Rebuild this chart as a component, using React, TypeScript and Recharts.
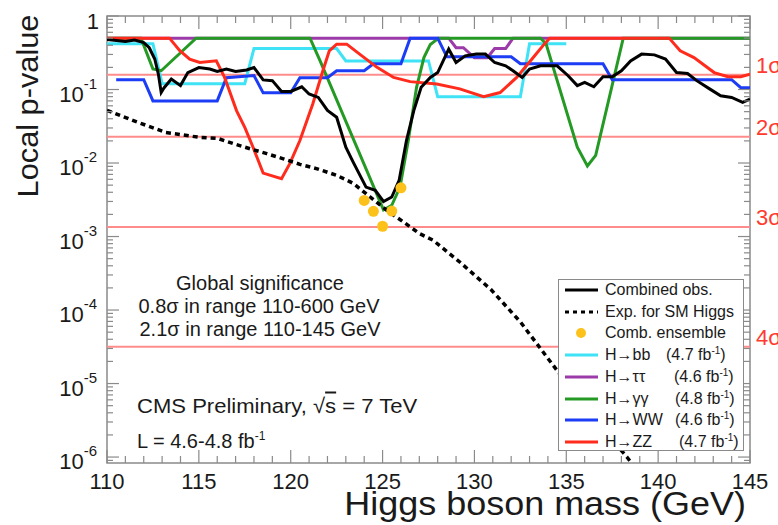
import React from 'react';
import { ComposedChart, Line, XAxis, YAxis, ReferenceLine, ReferenceArea, Legend } from 'recharts';

type Pt = { m: number; p: number };
const pts = (rows: number[][]): Pt[] => rows.map(([m, p]) => ({ m, p }));

// ---------------- data (mass in GeV, local p-value) ----------------
const combinedObs = pts([
  [110, 0.48], [111, 0.45], [111.5, 0.47], [112, 0.435], [112.3, 0.37], [112.6, 0.26], [112.8, 0.16],
  [112.95, 0.091], [113.1, 0.105], [113.5, 0.139], [114, 0.113], [114.4, 0.17], [115, 0.199], [115.6, 0.19],
  [116, 0.176], [116.5, 0.19], [117, 0.176], [117.6, 0.184], [118, 0.199], [118.5, 0.135], [119, 0.132],
  [119.5, 0.094], [120, 0.094], [120.6, 0.109], [121, 0.087], [121.5, 0.078], [122, 0.052], [122.5, 0.042],
  [123, 0.0164], [123.4, 0.0103], [124.1, 0.0047], [124.6, 0.00425], [125.05, 0.003], [125.5, 0.00345],
  [125.9, 0.0058], [126.3, 0.0202], [126.7, 0.0516], [127.1, 0.107], [127.6, 0.146], [128, 0.17],
  [128.6, 0.354], [129, 0.233], [129.5, 0.287], [130.1, 0.303], [130.6, 0.303], [131.1, 0.233], [131.7, 0.21],
  [132.1, 0.18], [132.6, 0.146], [133, 0.19], [133.6, 0.21], [134.5, 0.21], [135.1, 0.154], [135.6, 0.113],
  [136, 0.125], [136.5, 0.109], [137, 0.149], [137.5, 0.149], [138, 0.18], [138.5, 0.245], [139.1, 0.303],
  [139.8, 0.296], [140.4, 0.259], [141, 0.17], [141.6, 0.165], [142.1, 0.132], [142.8, 0.102], [143.4, 0.082],
  [144, 0.078], [144.6, 0.067], [145, 0.074],
]);

const expectedSM = pts([
  [110, 0.052], [111.4, 0.038], [113.2, 0.026], [115, 0.0224], [116, 0.0217], [116.9, 0.0183], [117.8, 0.0156],
  [118.7, 0.0134], [119.6, 0.0114], [120.5, 0.0096], [121.4, 0.0084], [122.5, 0.0068], [123.4, 0.0053],
  [124.3, 0.0035], [125.2, 0.0023], [126.1, 0.0016], [127, 0.0011], [127.75, 0.00089], [129.2, 0.00045],
  [130.9, 0.00019], [132.5, 0.000069], [134.3, 0.0000175], [136.3, 0.0000038], [138.3, 0.000001],
  [138.6, 0.0000008],
]);

const combEnsemble = pts([
  [124, 0.0031], [124.5, 0.0022], [125, 0.00138], [125.5, 0.00222], [126, 0.0046],
]);

const hbb = pts([
  [110, 0.42], [112.5, 0.42], [113, 0.12], [117.5, 0.12], [118, 0.36], [122.5, 0.36], [123, 0.245],
  [127.5, 0.245], [128, 0.08], [132.5, 0.08], [133, 0.42], [135, 0.42],
]);

const htautau = pts([
  [110, 0.5], [128.6, 0.5], [129, 0.37], [129.4, 0.37], [130, 0.27], [130.7, 0.27], [131.1, 0.36],
  [131.7, 0.36], [132.1, 0.5], [145, 0.5],
]);

const hgg = pts([
  [110, 0.5], [111.85, 0.5], [112.5, 0.19], [112.95, 0.18], [114.85, 0.5], [121.05, 0.5], [121.6, 0.245],
  [125.05, 0.0023], [125.5, 0.00266], [125.95, 0.0047], [126.4, 0.0202], [126.85, 0.107], [127.25, 0.272],
  [127.6, 0.41], [128.05, 0.5], [133.6, 0.5], [133.9, 0.42], [135.6, 0.0164], [136.15, 0.0091],
  [136.6, 0.0127], [138.1, 0.5], [145, 0.5],
]);

const hww = pts([
  [110.5, 0.136], [112, 0.136], [112.5, 0.07], [116, 0.07], [116.5, 0.145], [118, 0.155], [118.5, 0.09],
  [120, 0.09], [120.5, 0.145], [122, 0.145], [122.5, 0.18], [124, 0.18], [124.5, 0.224], [126, 0.224],
  [126.5, 0.5], [128, 0.5], [128.5, 0.278], [132, 0.278], [132.5, 0.224], [137, 0.224], [137.5, 0.136],
  [144, 0.136], [144.5, 0.106], [145, 0.106],
]);

const hzz = pts([
  [110, 0.5], [113.4, 0.5], [113.95, 0.34], [114.5, 0.259], [115.05, 0.233], [115.95, 0.246], [116.4, 0.146],
  [117.05, 0.0516], [117.5, 0.0306], [117.95, 0.0164], [118.5, 0.0073], [119.5, 0.0061], [119.95, 0.0098],
  [120.5, 0.0202], [121.2, 0.0636], [121.75, 0.18], [122.1, 0.336], [122.5, 0.414], [123.05, 0.414],
  [123.75, 0.303], [124.7, 0.2], [125.6, 0.146], [126.5, 0.128], [127.95, 0.119], [129.2, 0.102],
  [130.5, 0.08], [131.4, 0.091], [132.3, 0.146], [133.2, 0.272], [133.8, 0.414], [134.1, 0.5], [140.6, 0.5],
  [141.2, 0.336], [141.95, 0.272], [143.05, 0.17], [143.8, 0.149], [144.5, 0.149], [145, 0.162],
]);

const sigmaLevels = [0.158655, 0.02275, 0.0013499, 0.00003167];
const sigmaNames = ['1σ', '2σ', '3σ', '4σ'];

const massTicks = [
  110, 111, 112, 113, 114, 115, 116, 117, 118, 119, 120, 121, 122, 123, 124, 125, 126, 127,
  128, 129, 130, 131, 132, 133, 134, 135, 136, 137, 138, 139, 140, 141, 142, 143, 144, 145,
];
const decadeTicks = [1, 0.1, 0.01, 0.001, 0.0001, 0.00001, 0.000001];
const minorMultipliers = [2, 3, 4, 5, 6, 7, 8, 9];
const Y_DOMAIN: [number, number] = [8.3e-7, 1];

const legendNames = [
  'Combined obs.', 'Exp. for SM Higgs', 'Comb. ensemble',
  'H→bb', 'H→ττ', 'H→γγ', 'H→WW', 'H→ZZ',
];
const legendLumi = ['', '', '', '4.7', '4.6', '4.8', '4.6', '4.7'];

// ---------------- styles ----------------
const FONT = '"Liberation Sans", Arial, Helvetica, sans-serif';
const PLOT = { left: 107, right: 750, top: 16, bottom: 463 };
const FRAME = '#8a8a8a';
const TEXT = '#1a1a1a';
const COL = {
  obs: '#000000',
  exp: '#000000',
  ens: '#fcc21b',
  bb: '#3fe3f5',
  tt: '#9b3aa8',
  gg: '#249a24',
  ww: '#1c3cf5',
  zz: '#ff2b1c',
  sigmaLine: '#ff8c8c',
  sigmaText: '#ff3b30',
};
const legendKinds = ['line', 'dash', 'dot', 'line', 'line', 'line', 'line', 'line'];
const legendColors = [COL.obs, COL.exp, COL.ens, COL.bb, COL.tt, COL.gg, COL.ww, COL.zz];
const lumiLeft = [0, 0, 0, 107, 115, 116, 116, 120];

const yTicks: number[] = (() => {
  const out: number[] = [...decadeTicks];
  for (const d of [0.1, 0.01, 0.001, 0.0001, 0.00001, 0.000001, 0.0000001]) {
    for (const k of minorMultipliers) {
      const v = k * d;
      if (v >= Y_DOMAIN[0] && v <= Y_DOMAIN[1]) out.push(v);
    }
  }
  return out;
})();

const XTick = (props: any) => {
  const { x, payload } = props;
  const v = payload.value as number;
  const major = v % 5 === 0;
  const len = major ? 13 : 7;
  return (
    <g>
      <line x1={x} x2={x} y1={PLOT.bottom} y2={PLOT.bottom - len} stroke={FRAME} strokeWidth={1.2} />
      <line x1={x} x2={x} y1={PLOT.top} y2={PLOT.top + len} stroke={FRAME} strokeWidth={1.2} />
      {major ? (
        <text x={x} y={PLOT.bottom + 18} textAnchor="middle" dominantBaseline="central" fontSize={22} fontFamily={FONT} fill={TEXT}>
          {v}
        </text>
      ) : null}
    </g>
  );
};

const YTick = (props: any) => {
  const { y, payload } = props;
  const v = payload.value as number;
  const lg = Math.log10(v);
  const e = Math.round(lg);
  const major = Math.abs(lg - e) < 1e-6;
  const len = major ? 12 : 6;
  return (
    <g>
      <line x1={PLOT.left} x2={PLOT.left + len} y1={y} y2={y} stroke={FRAME} strokeWidth={1.2} />
      <line x1={PLOT.right - len} x2={PLOT.right} y1={y} y2={y} stroke={FRAME} strokeWidth={1.2} />
      {major ? (
        e === 0 ? (
          <text x={99} y={y + 5} textAnchor="end" dominantBaseline="central" fontSize={22} fontFamily={FONT} fill={TEXT}>1</text>
        ) : (
          <text x={97} y={y + 4} textAnchor="end" dominantBaseline="central" fontSize={22} fontFamily={FONT} fill={TEXT}>
            <tspan>10</tspan>
            <tspan fontSize={15} dy={-11}>{String(e)}</tspan>
          </text>
        )
      ) : null}
    </g>
  );
};

const SigmaLabel = (props: any) => {
  const vb = props.viewBox || {};
  return (
    <text x={(vb.x || 0) + (vb.width || 0) + 6} y={(vb.y || 0) - 9} dominantBaseline="central" fontSize={22} fontFamily={FONT} fill={COL.sigmaText}>
      {props.text}
    </text>
  );
};

const Sup = ({ children, size }: { children: React.ReactNode; size: number }) => (
  <span style={{ fontSize: size, verticalAlign: 'super', lineHeight: 0 }}>{children}</span>
);

const LegendBox = () => (
  <div
    style={{
      width: 186, height: 172, boxSizing: 'border-box', border: `1.5px solid ${FRAME}`, background: '#fff',
      position: 'relative', fontFamily: FONT, fontSize: 16, color: TEXT,
    }}
  >
    {legendNames.map((name, i) => {
      const kind = legendKinds[i];
      const color = legendColors[i];
      return (
        <div key={name} style={{ position: 'absolute', left: 0, top: 10 + i * 21.7 - 11, height: 22, width: '100%' }}>
          <svg style={{ position: 'absolute', left: 5, top: 0 }} width={36} height={22}>
            {kind === 'line' && <line x1={1} x2={34} y1={11} y2={11} stroke={color} strokeWidth={3} />}
            {kind === 'dash' && <line x1={1} x2={34} y1={11} y2={11} stroke={color} strokeWidth={3} strokeDasharray="4 4" />}
            {kind === 'dot' && <circle cx={17} cy={11} r={5} fill={color} />}
          </svg>
          <span style={{ position: 'absolute', left: 46, top: 0, lineHeight: '22px', whiteSpace: 'nowrap' }}>{name}</span>
          {legendLumi[i] ? (
            <span style={{ position: 'absolute', left: lumiLeft[i], top: 0, lineHeight: '22px', whiteSpace: 'nowrap' }}>
              ({legendLumi[i]} fb<Sup size={10}>-1</Sup>)
            </span>
          ) : null}
        </div>
      );
    })}
  </div>
);

const abs = (left: number, top: number, extra: React.CSSProperties = {}): React.CSSProperties => ({
  position: 'absolute', left, top, fontFamily: FONT, color: TEXT, whiteSpace: 'nowrap', lineHeight: 1, ...extra,
});

export default function App() {
  const series: { data: Pt[]; color: string; key: string }[] = [
    { data: hbb, color: COL.bb, key: 'bb' },
    { data: htautau, color: COL.tt, key: 'tt' },
    { data: hgg, color: COL.gg, key: 'gg' },
    { data: hww, color: COL.ww, key: 'ww' },
    { data: hzz, color: COL.zz, key: 'zz' },
  ];
  return (
    <div style={{ position: 'absolute', left: 0, top: 0, width: 778, height: 525, background: '#fff', overflow: 'hidden' }}>
      <ComposedChart width={778} height={525} margin={{ top: 16, right: 28, bottom: 0, left: 7 }}>
        <XAxis
          dataKey="m" type="number" domain={[110, 145]} allowDataOverflow ticks={massTicks} interval={0}
          tick={<XTick />} tickLine={false} axisLine={false} height={62} tickSize={0} tickMargin={0}
        />
        <YAxis
          type="number" scale="log" domain={Y_DOMAIN} allowDataOverflow ticks={yTicks} interval={0}
          tick={<YTick />} tickLine={false} axisLine={false} width={100} tickSize={0} tickMargin={0}
        />
        {sigmaLevels.map((s, i) => (
          <ReferenceLine key={s} y={s} stroke={COL.sigmaLine} strokeWidth={2} label={<SigmaLabel text={sigmaNames[i]} />} />
        ))}
        {series.map((s) => (
          <Line
            key={s.key} data={s.data} dataKey="p" type="linear" stroke={s.color} strokeWidth={3}
            dot={false} activeDot={false} isAnimationActive={false}
          />
        ))}
        <Line
          data={expectedSM} dataKey="p" type="linear" stroke={COL.exp} strokeWidth={3.5} strokeDasharray="5 4"
          dot={false} activeDot={false} isAnimationActive={false}
        />
        <Line
          data={combinedObs} dataKey="p" type="linear" stroke={COL.obs} strokeWidth={3}
          dot={false} activeDot={false} isAnimationActive={false}
        />
        <Line
          data={combEnsemble} dataKey="p" type="linear" stroke="none" strokeWidth={0}
          dot={{ r: 5.5, fill: COL.ens, stroke: 'none' }} activeDot={false} isAnimationActive={false}
        />
        <ReferenceArea x1={110} x2={145} y1={Y_DOMAIN[0]} y2={Y_DOMAIN[1]} fill="none" stroke={FRAME} strokeWidth={1.5} />
        <Legend
          layout="vertical" align="center" verticalAlign="middle" content={() => <LegendBox />}
          wrapperStyle={{ left: 558, top: 279, width: 186, height: 172 }}
        />
      </ComposedChart>

      <div style={abs(28, 106, { fontSize: 29, transform: 'translate(-50%, -50%) rotate(-90deg) scaleX(1.06)' })}>Local p-value</div>
      <div
        style={abs(746, 504, {
          fontSize: 33, lineHeight: 0.8, transformOrigin: 'right center',
          transform: 'translate(-100%, -50%) scaleX(1.09)',
        })}
      >
        Higgs boson mass (GeV)
      </div>

      <div style={abs(260, 283, { fontSize: 20, transform: 'translate(-50%, -50%)' })}>Global significance</div>
      <div style={abs(259, 306, { fontSize: 20, transform: 'translate(-50%, -50%)' })}>0.8σ in range 110-600 GeV</div>
      <div style={abs(260, 329, { fontSize: 20, transform: 'translate(-50%, -50%)' })}>2.1σ in range 110-145 GeV</div>

      <div style={abs(137, 405, { fontSize: 21, transformOrigin: 'left center', transform: 'translateY(-50%) scaleX(1.05)' })}>
        CMS Preliminary, √<span style={{ textDecoration: 'overline' }}>s</span> = 7 TeV
      </div>
      <div style={abs(137, 441, { fontSize: 20, transform: 'translateY(-50%)' })}>
        L = 4.6-4.8 fb<Sup size={12}>-1</Sup>
      </div>
    </div>
  );
}
